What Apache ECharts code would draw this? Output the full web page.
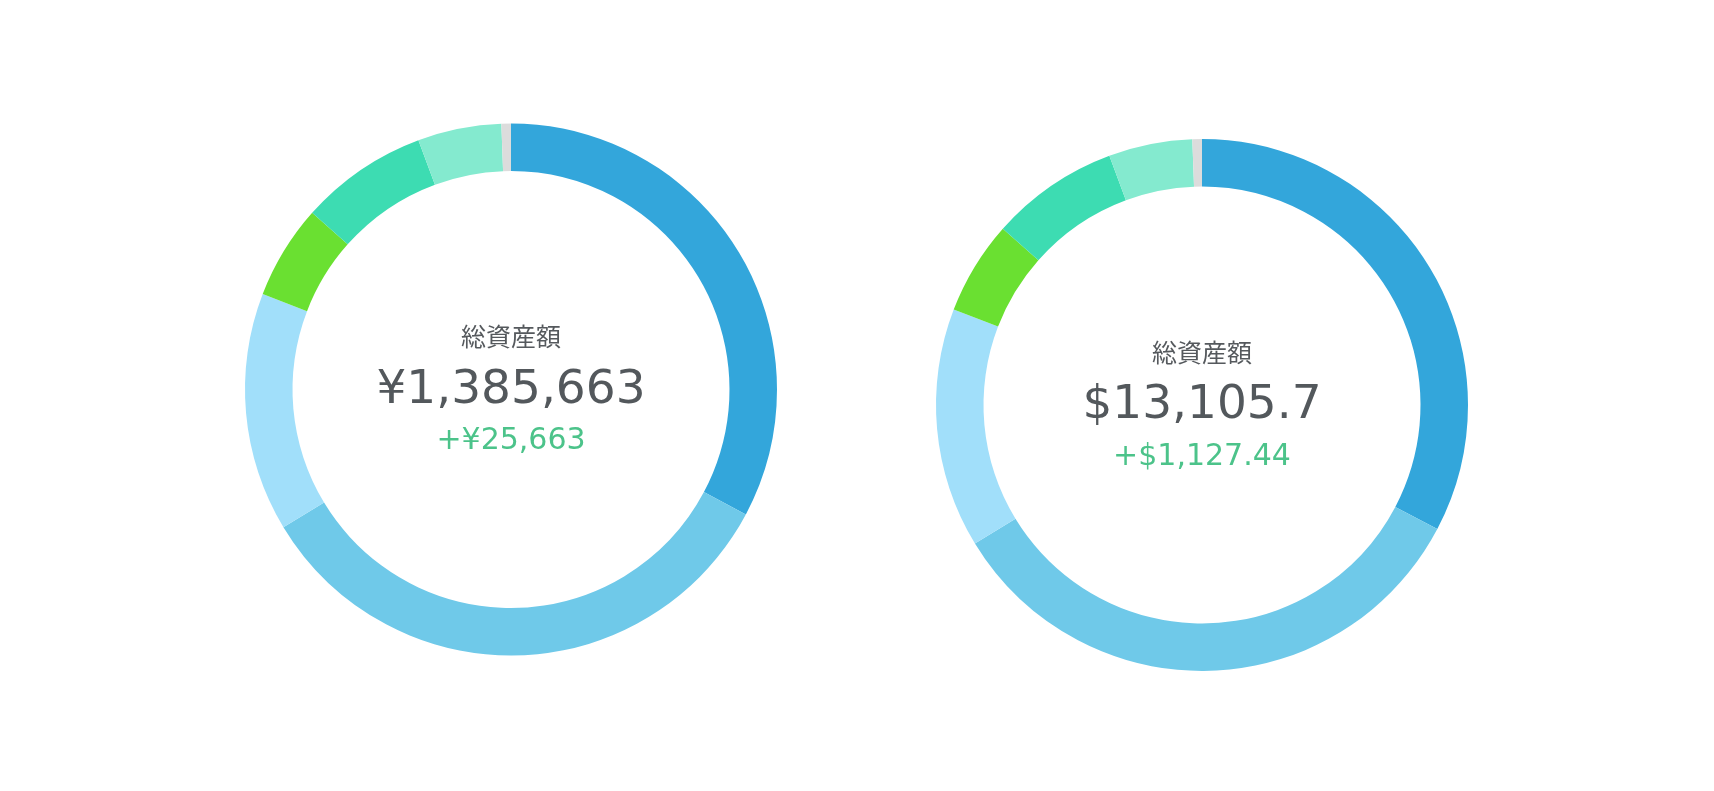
<!DOCTYPE html>
<html>
<head>
<meta charset="utf-8">
<title>総資産額</title>
<script src="https://cdn.jsdelivr.net/npm/echarts@6/dist/echarts.min.js"></script>
<style>
	html, body { margin: 0; padding: 0; background: #fff; }
	#main { width: 1714px; height: 791px; }
</style>
</head>
<body>
<div id="main"></div>
<script>
// segment order: clockwise from 12 o'clock
var segments = ['s1', 's2', 's3', 's4', 's5', 's6', 's7'];
var segmentColors = ['#33a6db', '#6fc9e9', '#a1dffa', '#6ae031', '#3ddcb2', '#84eacf', '#dcdcdc'];

// left donut (yen)
var yenValues = [454200, 465000, 200900, 79300, 107800, 70400, 8000];
var yenTotal = '¥1,385,663';
var yenChange = '+¥25,663';

// right donut (dollar)
var usdValues = [4288, 4398, 1908, 746, 1023, 666, 76];
var usdTotal = '$13,105.7';
var usdChange = '+$1,127.44';

var label = '総資産額';

var chart = echarts.init(document.getElementById('main'));

var jpFont = '"Noto Sans CJK JP", sans-serif';
var numFont = '"DejaVu Sans", "Noto Sans", sans-serif';

function toData(values) {
	return values.map(function (v, i) {
		return {name: segments[i], value: v, itemStyle: {color: segmentColors[i]}};
	});
}

function donut(center, values) {
	return {
		type: 'pie',
		center: center,
		radius: [218.5, 266],
		startAngle: 90,
		clockwise: true,
		silent: true,
		animation: false,
		label: {show: false},
		labelLine: {show: false},
		itemStyle: {borderWidth: 0},
		data: toData(values)
	};
}

function txt(x, y, text, size, family, color) {
	return {
		type: 'text', x: x, y: y,
		style: {text: text, fontSize: size, fontFamily: family, fill: color,
			align: 'center', verticalAlign: 'middle', textAlign: 'center', textVerticalAlign: 'middle'}
	};
}

// text block centred on the donut
function centerText(c, total, change) {
	return [
		txt(c[0], c[1] - 53, label, 25, jpFont, '#55595d'),
		txt(c[0], c[1] + 1, total, 47, numFont, '#53585c'),
		txt(c[0], c[1] + 52, change, 30, numFont, '#4cc38a')
	];
}

var leftCenter = [511, 389.5];
var rightCenter = [1202, 405];

chart.setOption({
	backgroundColor: '#fff',
	animation: false,
	series: [
		donut(leftCenter, yenValues),
		donut(rightCenter, usdValues)
	],
	graphic: centerText(leftCenter, yenTotal, yenChange).concat(centerText(rightCenter, usdTotal, usdChange))
});

window.addEventListener('resize', function () {
	chart.resize();
});
</script>
</body>
</html>
